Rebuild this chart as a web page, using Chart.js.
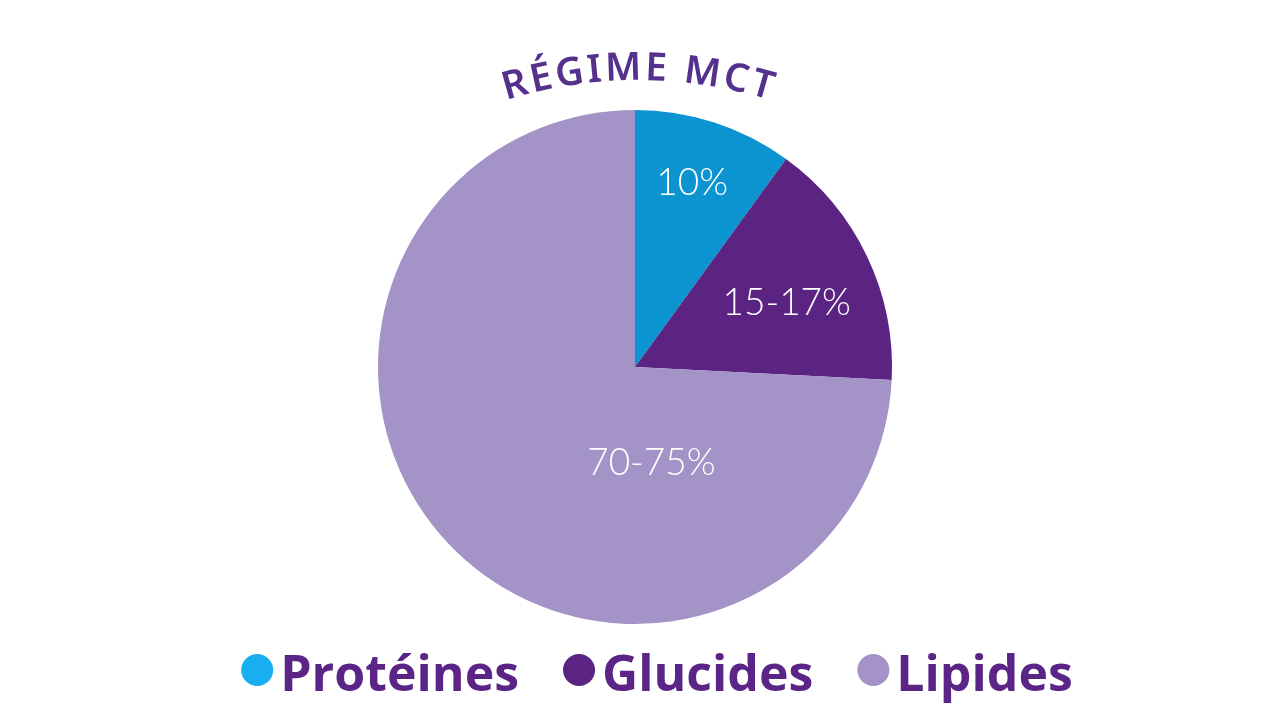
<!DOCTYPE html>
<html>
<head>
<meta charset="utf-8">
<script src="https://cdn.jsdelivr.net/npm/chart.js@4"></script>
<style>
html,body{margin:0;padding:0;background:#fff;}
#wrap{width:1280px;height:724px;position:relative;}
</style>
</head>
<body>
<div id="wrap"><canvas id="c" width="1280" height="724"></canvas></div>
<script>
const categories = ['Protéines', 'Glucides', 'Lipides'];
const values = [10, 15.8, 74.2];
const valueLabels = ['10%', '15-17%', '70-75%'];
const sliceColors = ['#0b94d0', '#5b2483', '#a393c6'];
const legendColors = ['#18aef0', '#5b2483', '#a393c6'];
const titleText = 'RÉGIME MCT';

// label placement: [fraction of slice angle, fraction of radius]
const labelPlacement = [[0.48, 0.75], [0.55, 0.64], [0.29, 0.38]];

const arcTitle = {
  id: 'arcTitle',
  afterDraw(chart) {
    const ctx = chart.ctx;
    const cx = 638, cy = 524, r = 444;
    ctx.save();
    ctx.font = '600 39px "Noto Sans", "Open Sans", sans-serif';
    ctx.fillStyle = '#55308d';
    ctx.textBaseline = 'alphabetic';
    ctx.textAlign = 'center';
    const spacing = 3;
    const chars = [...titleText];
    const widths = chars.map(ch => ctx.measureText(ch).width);
    const total = widths.reduce((a, b) => a + b, 0) + spacing * (chars.length - 1);
    let s = -total / 2;
    chars.forEach((ch, i) => {
      const mid = s + widths[i] / 2;
      const ang = mid / r;
      ctx.save();
      ctx.translate(cx + r * Math.sin(ang), cy - r * Math.cos(ang));
      ctx.rotate(ang);
      ctx.fillText(ch, 0, 0);
      ctx.restore();
      s += widths[i] + spacing;
    });
    ctx.restore();
  }
};

const sliceLabels = {
  id: 'sliceLabels',
  afterDatasetsDraw(chart) {
    const ctx = chart.ctx;
    const meta = chart.getDatasetMeta(0);
    ctx.save();
    ctx.font = '300 37px Lato, "Open Sans", sans-serif';
    ctx.fillStyle = '#ffffff';
    ctx.textAlign = 'center';
    ctx.textBaseline = 'middle';
    meta.data.forEach((arc, i) => {
      const p = arc.getProps(['x', 'y', 'startAngle', 'endAngle', 'outerRadius'], true);
      const [fa, fr] = labelPlacement[i];
      const a = p.startAngle + (p.endAngle - p.startAngle) * fa;
      const rr = p.outerRadius * fr;
      ctx.fillText(valueLabels[i], p.x + Math.cos(a) * rr, p.y + Math.sin(a) * rr);
    });
    ctx.restore();
  }
};

const bottomLegend = {
  id: 'bottomLegend',
  afterDraw(chart) {
    const ctx = chart.ctx;
    ctx.save();
    ctx.font = 'bold 50px "Open Sans", sans-serif';
    ctx.textBaseline = 'alphabetic';
    ctx.textAlign = 'left';
    const dotR = 16, dotGap = 7, itemGap = 44;
    const widths = categories.map(t => ctx.measureText(t).width);
    let total = 0;
    widths.forEach((w, i) => { total += dotR * 2 + dotGap + w + (i < widths.length - 1 ? itemGap : 0); });
    let x = 657 - total / 2;
    const dotY = 670, baseY = 691;
    categories.forEach((t, i) => {
      ctx.fillStyle = legendColors[i];
      ctx.beginPath();
      ctx.arc(x + dotR, dotY, dotR, 0, Math.PI * 2);
      ctx.fill();
      x += dotR * 2 + dotGap;
      ctx.fillStyle = '#5b2587';
      ctx.fillText(t, x, baseY);
      x += widths[i] + itemGap;
    });
    ctx.restore();
  }
};

new Chart(document.getElementById('c'), {
  type: 'pie',
  data: {
    labels: categories,
    datasets: [{
      data: values,
      backgroundColor: sliceColors,
      borderWidth: 0
    }]
  },
  options: {
    responsive: false,
    animation: false,
    layout: { padding: { top: 110, bottom: 100, left: 0, right: 10 } },
    plugins: {
      legend: { display: false },
      tooltip: { enabled: false }
    }
  },
  plugins: [arcTitle, sliceLabels, bottomLegend]
});
</script>
</body>
</html>
